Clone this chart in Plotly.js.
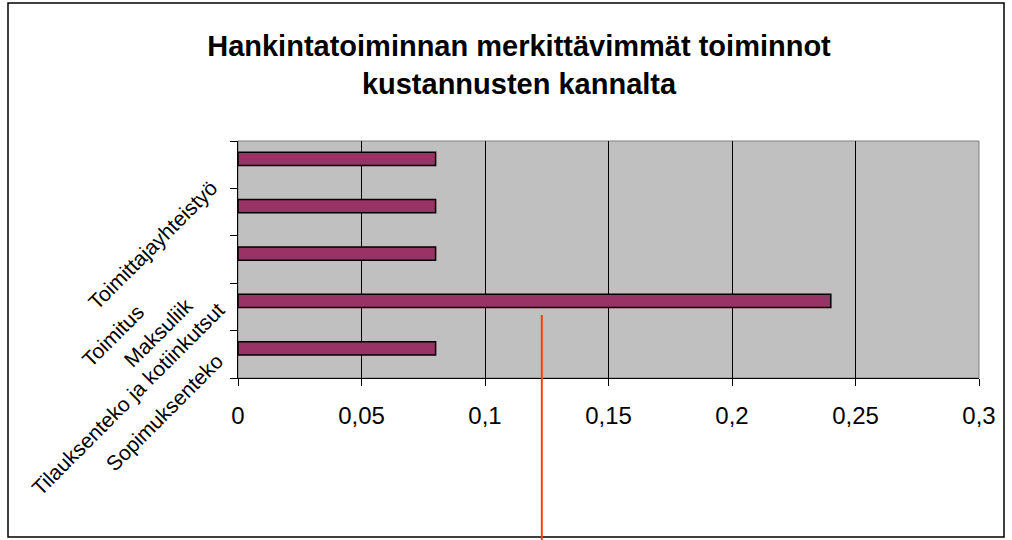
<!DOCTYPE html>
<html>
<head>
<meta charset="utf-8">
<script src="https://cdn.plot.ly/plotly-3.0.1.min.js"></script>
<style>
  html, body { margin: 0; padding: 0; background: #fff; }
  #chart { width: 1012px; height: 540px; }
</style>
</head>
<body>
<div id="chart"></div>
<script>
// categories bottom -> top, as Excel draws them
let categories = ['Sopimuksenteko', 'Tilauksenteko ja kotiinkutsut', 'Maksuliik', 'Toimitus', 'Toimittajayhteistyö']
let shares = [0.08, 0.24, 0.08, 0.08, 0.08]
let xTicks = [0, 0.05, 0.1, 0.15, 0.2, 0.25, 0.3]
let xTickText = ['0', '0,05', '0,1', '0,15', '0,2', '0,25', '0,3']

// where the rotated labels end up (pixels in the page, upper right corner)
let labelEnds = [[230, 347], [232, 295], [200, 291], [151, 297], [225, 173]]

// plot box in pixels, used to turn pixel spots into paper coords
let box = { l: 238, r: 33, t: 141, b: 162, w: 1012, h: 540 }
let plotW = box.w - box.l - box.r
let plotH = box.h - box.t - box.b
let px2paperX = function(px) { return (px - box.l) / plotW }
let px2paperY = function(py) { return (box.h - box.b - py) / plotH }

let redLineX = 0.123 // stray red mark below the long bar

let trace = {
  type: 'bar',
  orientation: 'h',
  y: categories,
  x: shares,
  width: 0.28,
  offset: -0.015,
  marker: { color: '#993366', line: { color: '#000', width: 1.5 } },
  hoverinfo: 'x+y'
}

let annotations = []
for (let i = 0; i < categories.length; i++) {
  annotations.push({
    text: categories[i],
    xref: 'paper', yref: 'paper',
    x: px2paperX(labelEnds[i][0]),
    y: px2paperY(labelEnds[i][1]),
    xanchor: 'right', yanchor: 'top',
    textangle: -45,
    showarrow: false,
    font: { family: 'Liberation Sans, Arial, sans-serif', size: 21, color: '#000' }
  })
}

let layout = {
  width: 1012,
  height: 540,
  margin: { l: box.l, r: box.r, t: box.t, b: box.b },
  paper_bgcolor: '#fff',
  plot_bgcolor: '#c0c0c0',
  separators: ',.',
  showlegend: false,
  font: { family: 'Liberation Sans, Arial, sans-serif', color: '#000' },
  title: {
    text: 'Hankintatoiminnan merkittävimmät toiminnot<br>kustannusten kannalta',
    font: { family: 'Liberation Sans, Arial, sans-serif', size: 29, weight: 'bold', color: '#000' },
    x: 519 / 1012, xref: 'container', xanchor: 'center',
    y: 1 - 56 / 540, yref: 'container', yanchor: 'middle'
  },
  xaxis: {
    range: [0, 0.3],
    tickvals: xTicks,
    ticktext: xTickText,
    showgrid: true, gridcolor: '#000', gridwidth: 1,
    zeroline: false,
    showline: true, linecolor: '#000', linewidth: 1,
    ticks: 'outside', ticklen: 7, tickcolor: '#000',
    ticklabelstandoff: 9,
    tickfont: { size: 24, color: '#000' },
    fixedrange: true
  },
  yaxis: {
    type: 'category',
    range: [-0.5, categories.length - 0.5],
    showticklabels: false,
    tickson: 'boundaries',
    ticks: 'outside', ticklen: 7, tickcolor: '#000',
    showgrid: false, zeroline: false,
    showline: true, linecolor: '#000', linewidth: 1,
    fixedrange: true
  },
  annotations: annotations,
  shapes: [
    // grey frame of the plot area
    { type: 'rect', xref: 'paper', yref: 'paper', x0: 0, x1: 1, y0: 0, y1: 1,
      line: { color: '#808080', width: 1 }, layer: 'below' },
    // outer chart border
    { type: 'rect', xref: 'paper', yref: 'paper',
      x0: px2paperX(8), x1: px2paperX(1004), y0: px2paperY(537), y1: px2paperY(3),
      line: { color: '#000', width: 1.5 } },
    // red line
    { type: 'line', xref: 'x', yref: 'paper', x0: redLineX, x1: redLineX,
      y0: px2paperY(315), y1: px2paperY(540), line: { color: '#ff3c14', width: 2 } }
  ]
}

Plotly.newPlot('chart', [trace], layout, { displayModeBar: false, staticPlot: true })
</script>
</body>
</html>
